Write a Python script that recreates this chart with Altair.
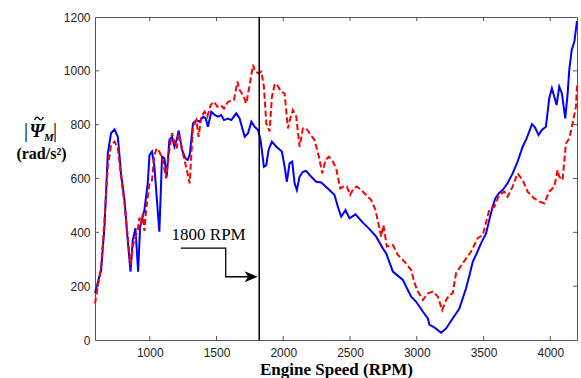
import altair as alt
import pandas as pd

blue_rpm = [590, 636, 661, 686, 710, 736, 761, 785, 811, 835, 856, 873, 893, 913, 928, 960, 985, 998,
            1017, 1035, 1052, 1072, 1092, 1110, 1127, 1147, 1167, 1185, 1202, 1217, 1242, 1267, 1285,
            1300, 1324, 1349, 1374, 1399, 1419, 1436, 1461, 1486, 1511, 1536, 1556, 1586, 1611, 1648,
            1673, 1711, 1736, 1761, 1786, 1811, 1830, 1855, 1873, 1890, 1915, 1948, 1990, 2010, 2027,
            2047, 2067, 2085, 2102, 2122, 2147, 2172, 2197, 2247, 2284, 2334, 2384, 2409, 2434, 2466,
            2496, 2541, 2596, 2646, 2696, 2746, 2771, 2821, 2896, 2921, 2958, 2996, 3046, 3083, 3095,
            3132, 3182, 3220, 3269, 3319, 3369, 3394, 3419, 3444, 3481, 3519, 3543, 3568, 3588, 3618,
            3643, 3680, 3718, 3755, 3793, 3823, 3863, 3885, 3912, 3937, 3967, 3992, 4012, 4030, 4047,
            4067, 4087, 4112, 4130, 4142, 4160, 4180, 4200]
blue_val = [175, 260, 421, 693, 768, 783, 755, 619, 520, 371, 254, 371, 415, 254, 421, 483, 582, 687,
            700, 644, 532, 402, 681, 675, 607, 743, 755, 718, 745, 778, 706, 675, 669,
            690, 805, 817, 811, 830, 823, 792, 848, 836, 830, 836, 817, 823, 817, 842,
            823, 755, 768, 811, 792, 780, 743, 644, 650, 706, 737, 718, 700, 644, 588,
            656, 663, 582, 557, 607, 625, 628, 613, 588, 585, 563, 539, 495, 458, 483,
            452, 467, 436, 412, 384, 340, 322, 254, 223, 198, 161, 142, 105, 80, 56,
            47, 27, 43, 80, 117, 192, 240, 290, 316, 359, 396, 446, 495, 526, 547,
            557, 582, 619, 663, 718, 749, 802, 790, 762, 780, 792, 898, 935, 904, 873,
            941, 916, 823, 916, 1003, 1077, 1108, 1185]

red_rpm = [590, 636, 661, 686, 710, 736, 761, 785, 811, 835, 856, 873, 893, 910, 923, 935, 948, 960,
           973, 998, 1017, 1035, 1052, 1072, 1097, 1122, 1147, 1167, 1185, 1202, 1217, 1242, 1272,
           1299, 1324, 1349, 1366, 1386, 1411, 1431, 1456, 1481, 1506, 1531, 1556, 1586, 1631, 1656,
           1673, 1698, 1723, 1748, 1773, 1790, 1815, 1836, 1855, 1873, 1898, 1915, 1935, 1948, 1985,
           2010, 2035, 2052, 2072, 2097, 2122, 2147, 2172, 2197, 2234, 2267, 2292, 2317, 2342, 2371,
           2396, 2427, 2451, 2476, 2501, 2526, 2551, 2584, 2621, 2659, 2691, 2733, 2750, 2776, 2821,
           2858, 2908, 2958, 2983, 3008, 3046, 3083, 3120, 3158, 3190, 3220, 3244, 3269, 3294, 3344,
           3406, 3456, 3494, 3543, 3581, 3618, 3656, 3680, 3718, 3755, 3793, 3830, 3880, 3918, 3955,
           3992, 4030, 4055, 4067, 4092, 4117, 4142, 4167, 4192, 4200]
red_val = [136, 272, 446, 644, 724, 737, 712, 607, 508, 384, 280, 347, 384, 409, 455, 430, 470, 405,
           483, 582, 594, 687, 712, 700, 669, 600, 706, 768, 737, 712, 768, 706, 644,
           582, 792, 817, 755, 830, 848, 830, 873, 885, 867, 873, 860, 885, 892, 960,
           929, 910, 879, 947, 1022, 997, 991, 997, 941, 805, 775, 904, 947, 953, 922,
           916, 786, 823, 854, 830, 718, 786, 786, 768, 743, 681, 619, 669, 681, 663,
           638, 563, 570, 570, 539, 563, 570, 557, 539, 520, 483, 384, 427, 347, 353,
           316, 291, 260, 211, 180, 149, 173, 180, 161, 111, 149, 167, 173, 248, 285,
           328, 378, 390, 483, 495, 540, 551, 532, 570, 619, 594, 551, 526, 514, 508,
           551, 570, 631, 607, 594, 730, 749, 805, 867, 945]

x_ticks = [1000, 1500, 2000, 2500, 3000, 3500, 4000]
y_ticks = [0, 200, 400, 600, 800, 1000, 1200]
inner_y_ticks = [200, 400, 600, 800, 1000]
marker_rpm = 1820
note_text = "1800 RPM"
note_pos = (1441, 371)
arrow_rpm = [1232, 1569, 1569, 1790]
arrow_val = [341, 341, 235, 235]
arrow_head = (1759, 235)

W, H = 482, 323
FRAME = "#555555"

xs = alt.Scale(domain=[590, 4200], nice=False, zero=False)
ys = alt.Scale(domain=[0, 1200], nice=False, zero=True)
xaxis = alt.Axis(values=x_ticks, format="d", grid=False, ticks=False, domain=False,
                 labelFont="Liberation Sans", labelFontSize=12, labelColor="#222222",
                 labelPadding=7, title="Engine Speed (RPM)", titleFont="Liberation Serif",
                 titleFontSize=17, titleFontWeight="bold", titleColor="black", titlePadding=3)
yaxis = alt.Axis(values=y_ticks, format="d", grid=False, ticks=False, domain=False,
                 labelFont="Liberation Sans", labelFontSize=12, labelColor="#222222",
                 labelPadding=5, title=None)


def X(f="rpm"):
    return alt.X(f, type="quantitative", scale=xs, axis=xaxis)


def Y(f="val"):
    return alt.Y(f, type="quantitative", scale=ys, axis=yaxis)


blue_df = pd.DataFrame({"rpm": blue_rpm, "val": blue_val, "i": list(range(len(blue_rpm)))})
red_df = pd.DataFrame({"rpm": red_rpm, "val": red_val, "i": list(range(len(red_rpm)))})

blue = alt.Chart(blue_df).mark_line(color="#0000ff", strokeWidth=2).encode(
    x=X(), y=Y(), order="i:Q")
red = alt.Chart(red_df).mark_line(color="#ff0000", strokeWidth=2, strokeDash=[6, 3]).encode(
    x=X(), y=Y(), order="i:Q")

xt_df = pd.DataFrame({"rpm": x_ticks})
yt_df = pd.DataFrame({"val": inner_y_ticks})
tick_b = alt.Chart(xt_df).mark_rule(color=FRAME, strokeWidth=1).encode(
    x=X(), y=alt.value(H), y2=alt.value(H - 4))
tick_t = alt.Chart(xt_df).mark_rule(color=FRAME, strokeWidth=1).encode(
    x=X(), y=alt.value(0), y2=alt.value(4))
tick_l = alt.Chart(yt_df).mark_rule(color=FRAME, strokeWidth=1).encode(
    y=Y(), x=alt.value(0), x2=alt.value(4))
tick_r = alt.Chart(yt_df).mark_rule(color=FRAME, strokeWidth=1).encode(
    y=Y(), x=alt.value(W), x2=alt.value(W - 4))

vline = alt.Chart(pd.DataFrame({"rpm": [marker_rpm]})).mark_rule(
    color="black", strokeWidth=1.5).encode(x=X())

note = alt.Chart(pd.DataFrame({"rpm": [note_pos[0]], "val": [note_pos[1]], "t": [note_text]})).mark_text(
    font="Liberation Serif", fontSize=17, align="center", baseline="alphabetic", color="black"
).encode(x=X(), y=Y(), text="t:N")

arrow_df = pd.DataFrame({"rpm": arrow_rpm, "val": arrow_val, "i": list(range(len(arrow_rpm)))})
arrow = alt.Chart(arrow_df).mark_line(color="black", strokeWidth=1.3).encode(
    x=X(), y=Y(), order="i:Q")
head = alt.Chart(pd.DataFrame({"rpm": [arrow_head[0]], "val": [arrow_head[1]]})).mark_point(
    shape="M1,0L-1,-0.85L-0.45,0L-1,0.85Z", filled=True, color="black", opacity=1, size=169,
    strokeWidth=0).encode(x=X(), y=Y())

one = pd.DataFrame({"a": [0]})


def label(txt, x, y, size, style="normal", weight="bold", align="center"):
    return alt.Chart(one).mark_text(
        text=txt, font="Liberation Serif", fontSize=size, fontStyle=style, fontWeight=weight,
        align=align, baseline="alphabetic", color="black"
    ).encode(x=alt.value(x), y=alt.value(y))


tilde = alt.Chart(one).mark_point(
    shape="M-1,0.35C-0.6,-0.45 -0.25,-0.45 0,0C0.25,0.45 0.6,0.45 1,-0.35",
    filled=False, color="black", opacity=1, size=81, strokeWidth=1.3
).encode(x=alt.value(-56), y=alt.value(101.5))

ytitle = [
    label("|", -69, 120, 20, weight="normal"),
    label("\u03a8", -58, 120, 19, style="italic"),
    tilde,
    label("M", -46, 124, 11, style="italic"),
    label("|", -40, 120, 20, weight="normal"),
    label("(rad/s\u00b2)", -53.5, 142, 16),
]

chart = alt.layer(
    blue, red, tick_b, tick_t, tick_l, tick_r, vline, note, arrow, head, *ytitle
).properties(
    width=W, height=H,
    padding={"left": 95, "top": 17, "right": 4, "bottom": 38},
    autosize=alt.AutoSizeParams(type="none"),
    background="white",
).configure_view(stroke=FRAME, strokeWidth=1)

chart.save("out.html", embed_options={"renderer": "svg", "actions": False})
